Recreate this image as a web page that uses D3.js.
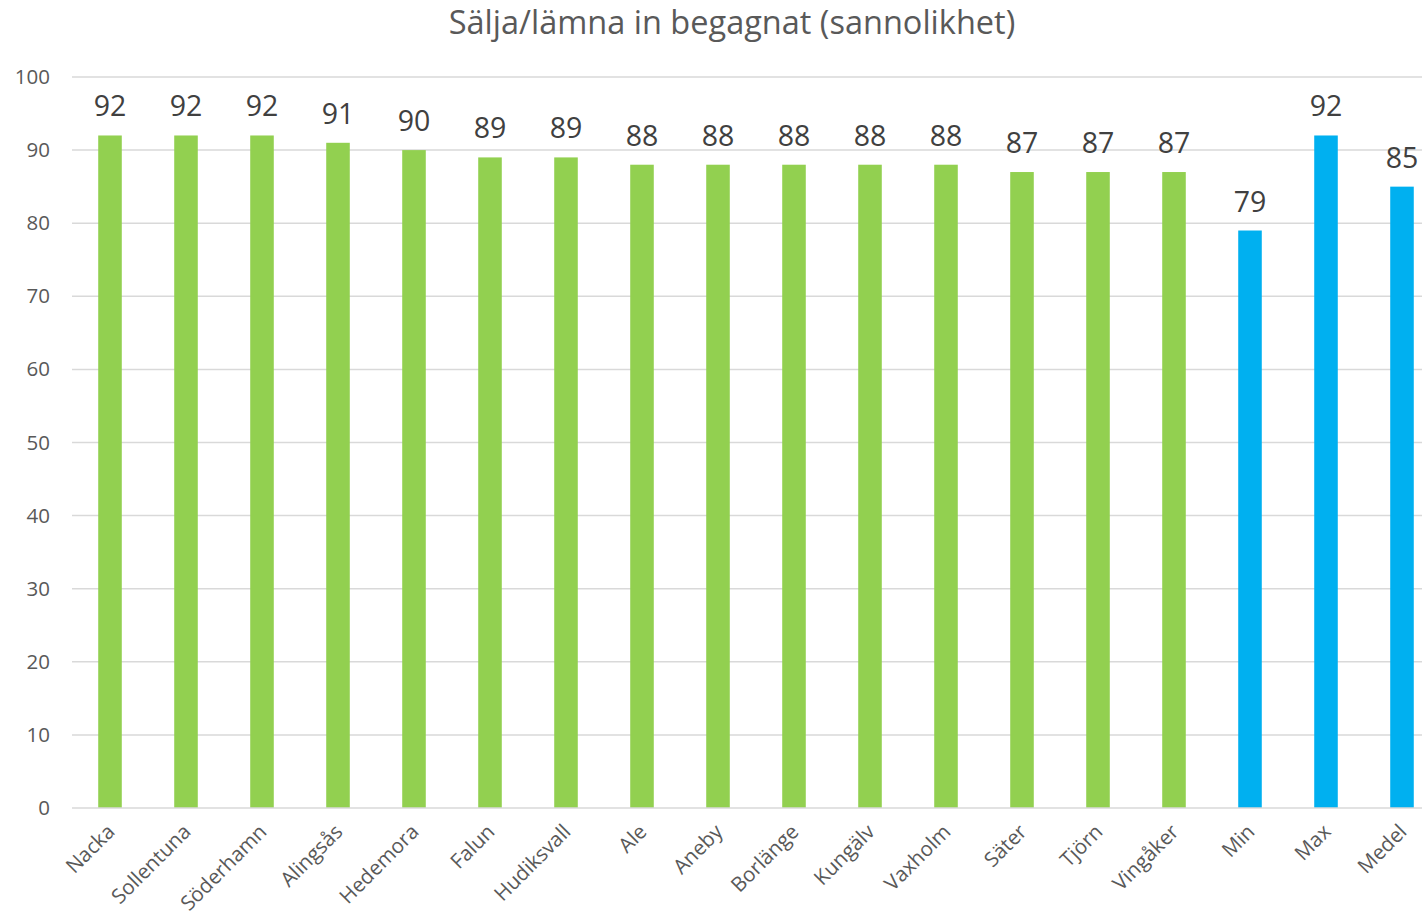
<!DOCTYPE html>
<html>
<head>
<meta charset="utf-8">
<script src="https://cdn.jsdelivr.net/npm/d3@7"></script>
<style>
  body { margin: 0; background: #fff; }
  text { font-family: "Open Sans", sans-serif; fill: #595959; }
</style>
</head>
<body>
<div id="chart"></div>
<script>
const categories = ["Nacka", "Sollentuna", "Söderhamn", "Alingsås", "Hedemora", "Falun", "Hudiksvall",
  "Ale", "Aneby", "Borlänge", "Kungälv", "Vaxholm", "Säter", "Tjörn", "Vingåker", "Min", "Max", "Medel"];
const values = [92, 92, 92, 91, 90, 89, 89, 88, 88, 88, 88, 88, 87, 87, 87, 79, 92, 85];
const summaryCats = ["Min", "Max", "Medel"];
const yTicks = [0, 10, 20, 30, 40, 50, 60, 70, 80, 90, 100];

const width = 1422, height = 915;
const svg = d3.select("#chart").append("svg")
  .attr("width", width).attr("height", height);

const x = d3.scaleBand().domain(categories).range([72, 1440]).paddingInner(0.69).paddingOuter(0.345);
const y = d3.scaleLinear().domain([0, 100]).range([808, 77]);

// gridlines
svg.append("g").selectAll("line").data(yTicks.filter(d => d > 0)).enter().append("line")
  .attr("x1", 72).attr("x2", width)
  .attr("y1", d => y(d)).attr("y2", d => y(d))
  .attr("stroke", "#d9d9d9").attr("stroke-width", 1.5);

// y tick labels
svg.append("g").selectAll("text").data(yTicks).enter().append("text")
  .attr("x", 50).attr("y", d => y(d) + 7)
  .attr("text-anchor", "end")
  .style("font-size", "20.5px")
  .text(d => d);

// bars
svg.append("g").selectAll("rect").data(categories).enter().append("rect")
  .attr("x", d => x(d))
  .attr("width", x.bandwidth())
  .attr("y", (d, i) => y(values[i]))
  .attr("height", (d, i) => y(0) - y(values[i]))
  .attr("fill", d => summaryCats.includes(d) ? "#00B0F0" : "#92D050");

// axis line
svg.append("line")
  .attr("x1", 72).attr("x2", width)
  .attr("y1", y(0)).attr("y2", y(0))
  .attr("stroke", "#d9d9d9").attr("stroke-width", 1.5);

// value labels
svg.append("g").selectAll("text").data(categories).enter().append("text")
  .attr("x", d => x(d) + x.bandwidth() / 2)
  .attr("y", (d, i) => y(values[i]) - 19)
  .attr("text-anchor", "middle")
  .style("font-size", "28.5px")
  .style("fill", "#404040")
  .text((d, i) => values[i]);

// category labels
svg.append("g").selectAll("text").data(categories).enter().append("text")
  .attr("text-anchor", "end")
  .attr("transform", d => "translate(" + (x(d) + x.bandwidth() / 2 + 6) + ",833) rotate(-45)")
  .style("font-size", "20.5px")
  .text(d => d);

// title
svg.append("text")
  .attr("x", 732).attr("y", 34)
  .attr("text-anchor", "middle")
  .style("font-size", "32.5px")
  .text("Sälja/lämna in begagnat (sannolikhet)");
</script>
</body>
</html>
